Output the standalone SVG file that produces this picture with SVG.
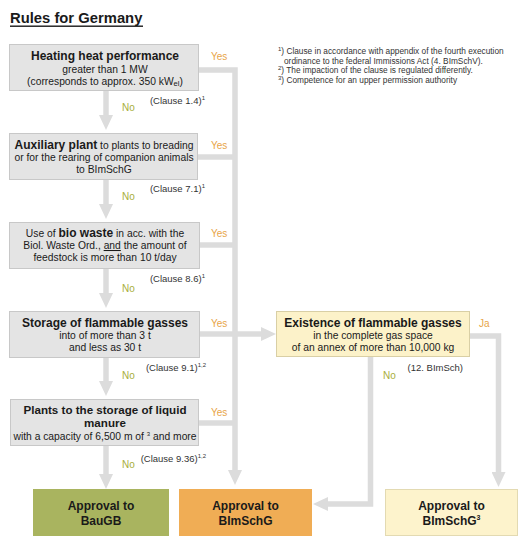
<svg xmlns="http://www.w3.org/2000/svg" width="525" height="547" viewBox="0 0 525 547">
<defs>
<style>
text{font-family:"Liberation Sans",Arial,sans-serif;fill:#1a1a1a}
.t{font-size:14.8px;font-weight:bold}
.h{font-size:12px;font-weight:bold}
.s{font-size:10.3px}
.b{font-weight:bold;font-size:12px}
.fn{font-size:8.3px;fill:#333}
.yes{font-size:10px;fill:#e8a548}
.no{font-size:10px;fill:#a9ae3c}
.cl{font-size:9.5px;fill:#333}
.sup{font-size:6px}
.gbox{fill:#e4e4e4;stroke:#c8c8c8;stroke-width:1}
.ybox{fill:#fcf2c9;stroke:#d9cfa5;stroke-width:1}
.con{fill:none;stroke:#dcdcdc;stroke-width:5.5}
.r{font-size:12px;font-weight:bold;text-anchor:middle}
.m{text-anchor:middle}
</style>
<marker id="ah" markerUnits="userSpaceOnUse" viewBox="0 0 15 14" refX="0" refY="7" markerWidth="15" markerHeight="14" orient="auto">
<path d="M0,0 L15,7 L0,14 Z" fill="#dcdcdc"/>
</marker>
</defs>
<rect width="525" height="547" fill="#ffffff"/>

<g id="title">
<text class="t" x="10" y="23">Rules for Germany</text>
<rect x="10" y="25.5" width="133" height="1.4" fill="#1a1a1a"/>
</g>

<g id="footnotes">
<text class="fn" x="278" y="54"><tspan class="sup" dy="-3">1</tspan><tspan dy="3">) Clause in accordance with appendix of the fourth execution</tspan></text>
<text class="fn" x="284" y="63.5">ordinance to the federal Immissions Act (4. BImSchV).</text>
<text class="fn" x="278" y="73"><tspan class="sup" dy="-3">2</tspan><tspan dy="3">) The impaction of the clause is regulated differently.</tspan></text>
<text class="fn" x="278" y="82.5"><tspan class="sup" dy="-3">3</tspan><tspan dy="3">) Competence for an upper permission authority</tspan></text>
</g>

<g id="connectors">
<path class="con" d="M106,91 V115" marker-end="url(#ah)"/>
<path class="con" d="M106,180 V204" marker-end="url(#ah)"/>
<path class="con" d="M106,268 V293" marker-end="url(#ah)"/>
<path class="con" d="M106,357 V381" marker-end="url(#ah)"/>
<path class="con" d="M106,446 V474" marker-end="url(#ah)"/>
<path class="con" d="M199,70 H235 V470" marker-end="url(#ah)"/>
<path class="con" d="M198,157 H235"/>
<path class="con" d="M200,245 H235"/>
<path class="con" d="M199,423 H235"/>
<path class="con" d="M199,334 H261" marker-end="url(#ah)"/>
<path class="con" d="M470,336 H498.5 V472" marker-end="url(#ah)"/>
<path class="con" d="M370.5,357 V504 H328" marker-end="url(#ah)"/>
</g>

<g id="labels">
<text class="yes" x="211" y="60">Yes</text>
<text class="yes" x="211" y="149">Yes</text>
<text class="yes" x="211" y="237">Yes</text>
<text class="yes" x="211" y="327">Yes</text>
<text class="yes" x="211" y="416">Yes</text>
<text class="yes" x="479" y="327">Ja</text>
<text class="no" x="122" y="111">No</text>
<text class="no" x="122" y="200">No</text>
<text class="no" x="122" y="292">No</text>
<text class="no" x="122" y="379">No</text>
<text class="no" x="122" y="468">No</text>
<text class="no" x="383" y="379">No</text>
<text class="cl" x="205" y="104" text-anchor="end">(Clause 1.4)<tspan class="sup" dy="-4">1</tspan></text>
<text class="cl" x="205" y="192" text-anchor="end">(Clause 7.1)<tspan class="sup" dy="-4">1</tspan></text>
<text class="cl" x="205" y="282" text-anchor="end">(Clause 8.6)<tspan class="sup" dy="-4">1</tspan></text>
<text class="cl" x="206" y="371" text-anchor="end">(Clause 9.1)<tspan class="sup" dy="-4">1,2</tspan></text>
<text class="cl" x="206" y="462" text-anchor="end">(Clause 9.36)<tspan class="sup" dy="-4">1,2</tspan></text>
<text class="cl" x="463" y="371" text-anchor="end">(12. BImSch)</text>
</g>

<g id="n1">
<rect class="gbox" x="9.5" y="44.5" width="189" height="46"/>
<text class="h m" x="105" y="60">Heating heat performance</text>
<text class="s m" x="105" y="73">greater than 1 MW</text>
<text class="s m" x="105" y="84.5">(corresponds to approx. 350 kW<tspan font-size="7.5px" dy="1.5">el</tspan><tspan dy="-1.5">)</tspan></text>
</g>

<g id="n2">
<rect class="gbox" x="9.5" y="133.5" width="188" height="46"/>
<text class="s m" x="104" y="149"><tspan class="b">Auxiliary plant</tspan> to plants to breading</text>
<text class="s m" x="104" y="161">or for the rearing of companion animals</text>
<text class="s m" x="104" y="173">to BImSchG</text>
</g>

<g id="n3">
<rect class="gbox" x="9.5" y="222.5" width="190" height="46"/>
<text class="s m" x="105" y="237">Use of <tspan class="b">bio waste</tspan> in acc. with the</text>
<text class="s m" x="105" y="249">Biol. Waste Ord., <tspan text-decoration="underline">and</tspan> the amount of</text>
<text class="s m" x="105" y="261">feedstock is more than 10 t/day</text>
</g>

<g id="n4">
<rect class="gbox" x="9.5" y="311.5" width="190" height="46"/>
<text class="h m" x="105" y="327">Storage of flammable gasses</text>
<text class="s m" x="105" y="339">into of more than 3 t</text>
<text class="s m" x="105" y="351">and less as 30 t</text>
</g>

<g id="n5">
<rect class="gbox" x="10.5" y="399.5" width="188" height="46"/>
<text class="m" x="105" y="413.5" font-size="11.6px" font-weight="bold">Plants to the storage of liquid</text>
<text class="m" x="105" y="427" font-size="11.6px" font-weight="bold">manure</text>
<text class="s m" x="105" y="439.5">with a capacity of 6,500 m of <tspan class="sup" dy="-4">3</tspan><tspan dy="4"> and more</tspan></text>
</g>

<g id="n6">
<rect class="ybox" x="276.5" y="311.5" width="193" height="45"/>
<text class="h m" x="373" y="327">Existence of flammable gasses</text>
<text class="s m" x="373" y="339">in the complete gas space</text>
<text class="s m" x="373" y="351">of an annex of more than 10,000 kg</text>
</g>

<g id="r1">
<rect x="33" y="489" width="136" height="47" fill="#a9b45f"/>
<text class="r" x="101" y="510">Approval to</text>
<text class="r" x="101" y="525">BauGB</text>
</g>

<g id="r2">
<rect x="179" y="489" width="133" height="47" fill="#f0ad55"/>
<text class="r" x="245.5" y="510">Approval to</text>
<text class="r" x="245.5" y="525">BImSchG</text>
</g>

<g id="r3">
<rect x="385.5" y="489.5" width="132" height="46" fill="#fdf3cc" stroke="#e3dab2" stroke-width="1"/>
<text class="r" x="451.5" y="510">Approval to</text>
<text class="r" x="451.5" y="525">BImSchG<tspan font-size="7px" dy="-5">3</tspan></text>
</g>
</svg>
